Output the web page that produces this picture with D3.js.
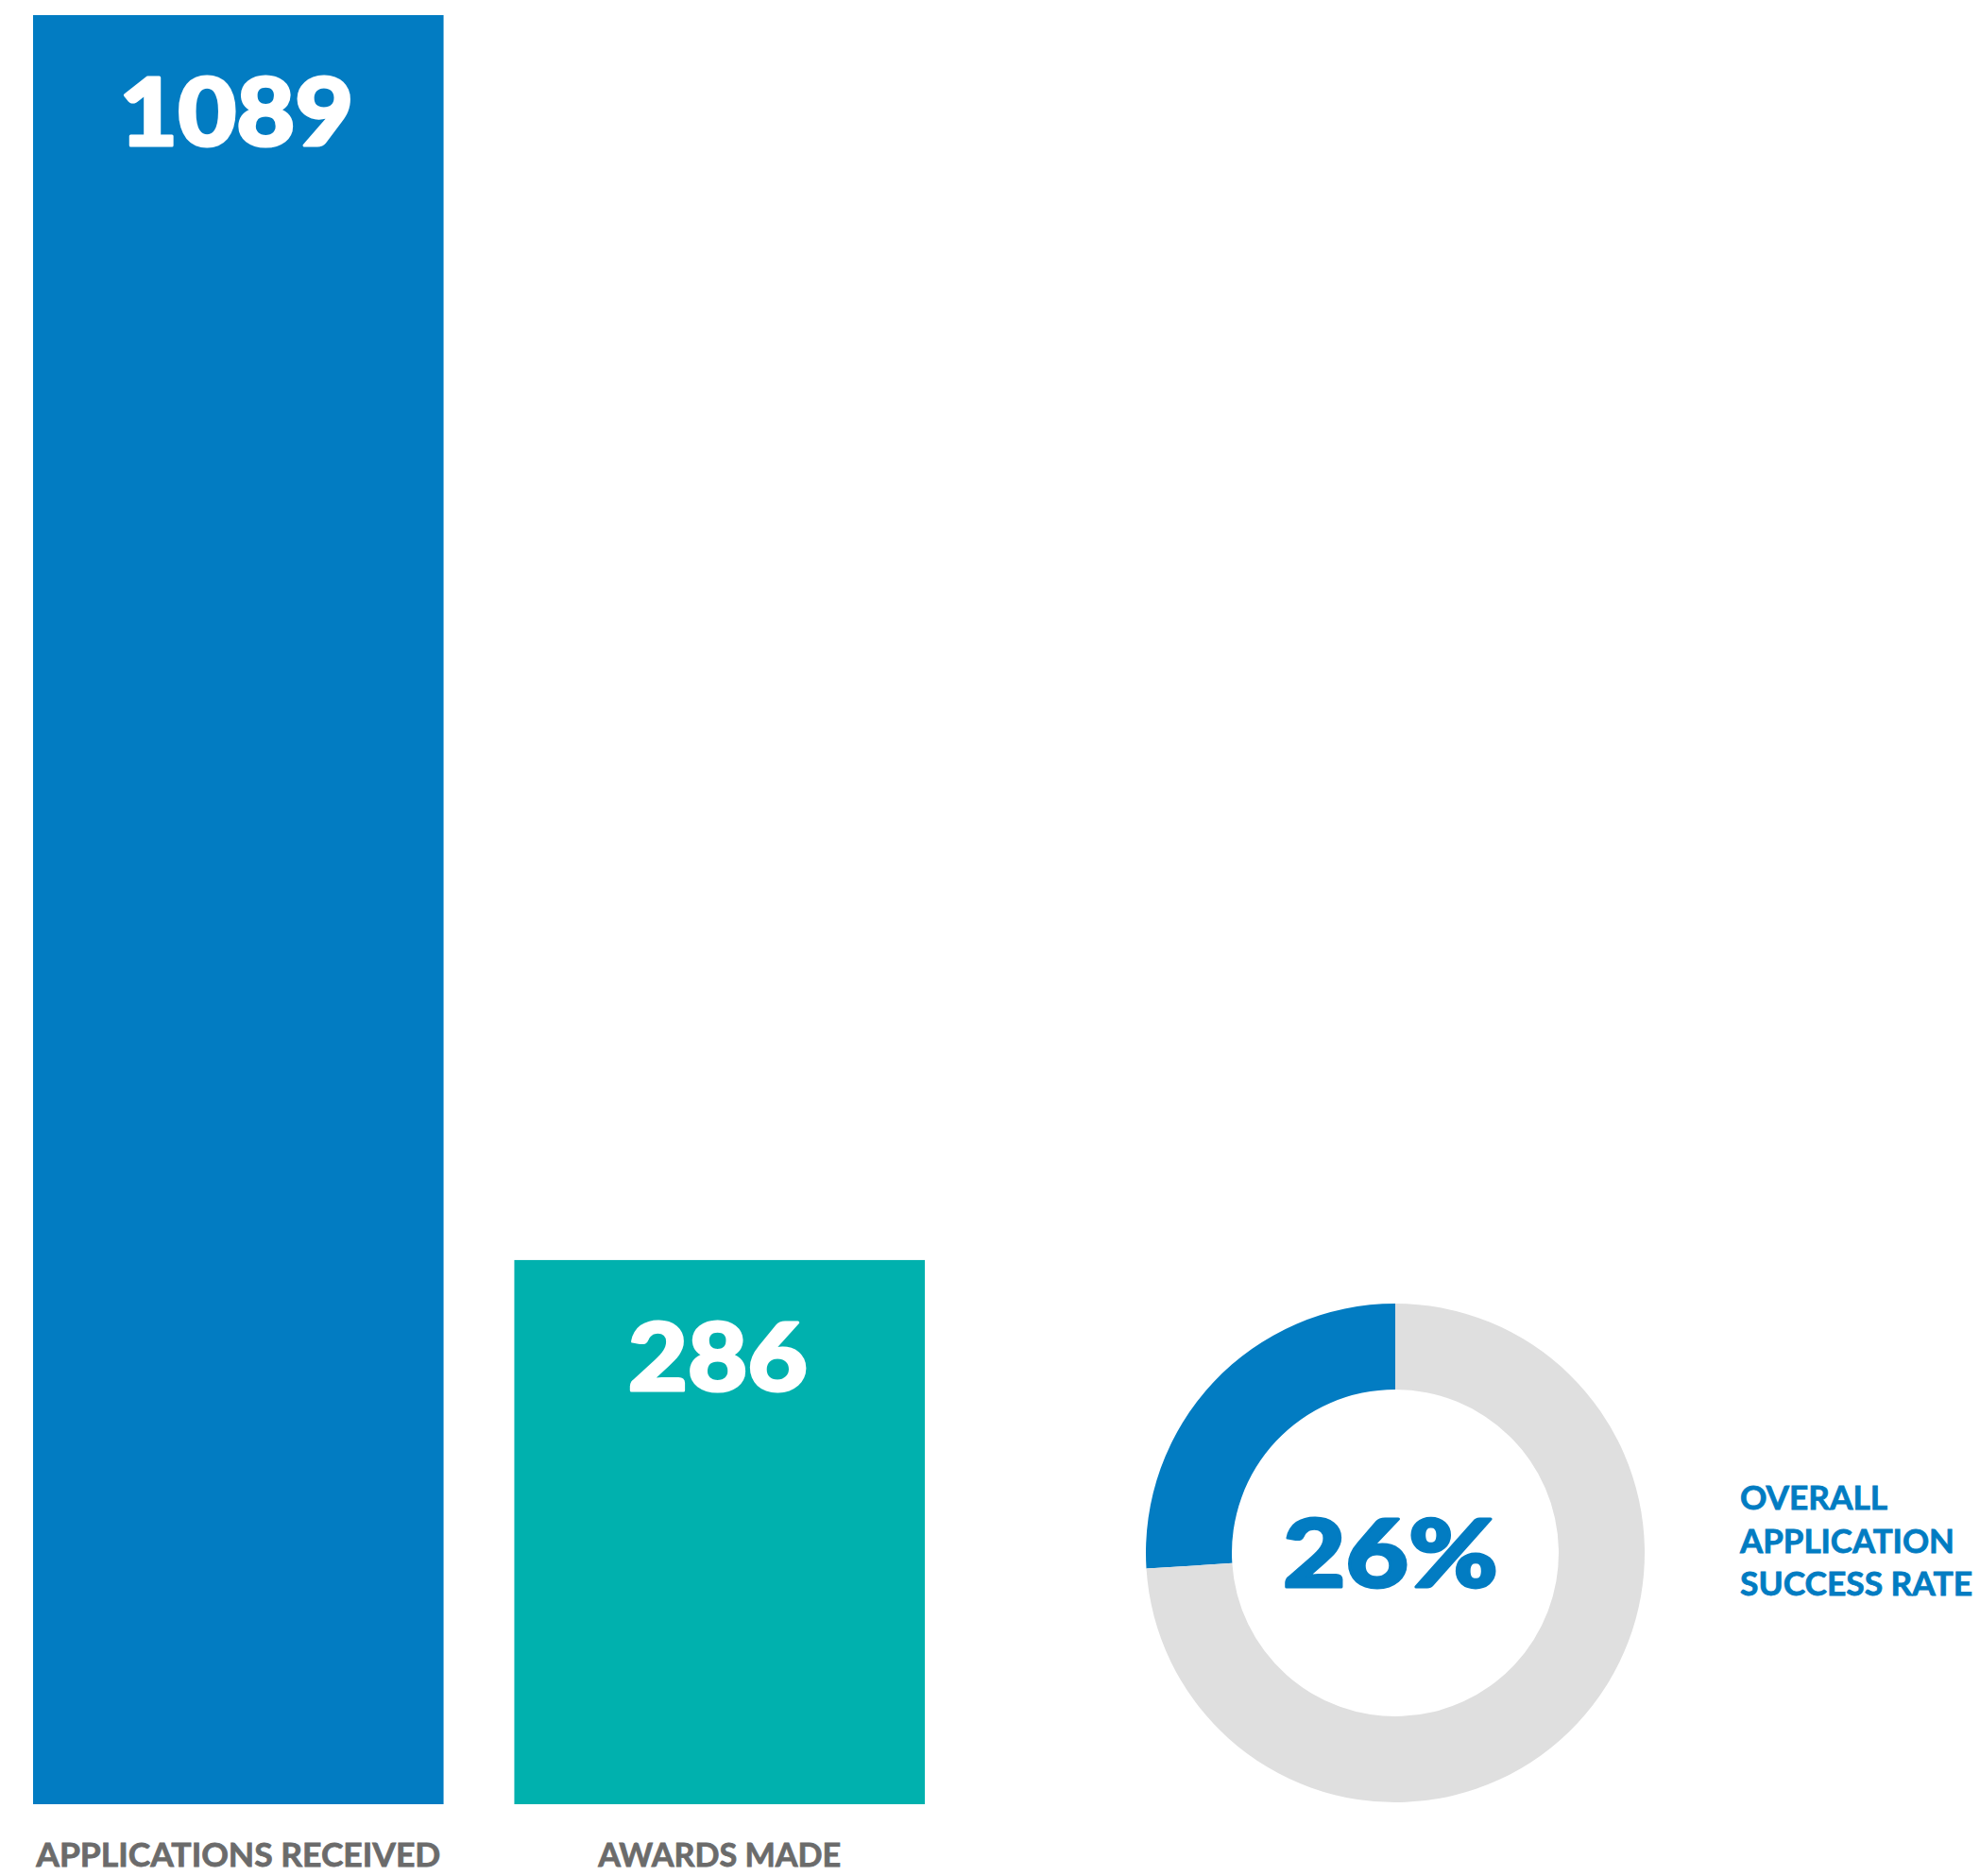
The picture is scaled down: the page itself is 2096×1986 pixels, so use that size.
<!DOCTYPE html>
<html>
<head>
<meta charset="utf-8">
<script src="https://cdn.jsdelivr.net/npm/d3@7"></script>
<style>
  body { margin: 0; background: #fff; }
  svg { display: block; }
</style>
</head>
<body>
<div id="chart"></div>
<script>
const width = 2096;
const height = 1986;

const categories = ['APPLICATIONS RECEIVED', 'AWARDS MADE'];
const values = [1089, 286];
const barColors = ['#027cc2', '#00b1ae'];
const rateValues = [26, 74];
const rateLabel = '26%';
const rateCaption = ['OVERALL', 'APPLICATION', 'SUCCESS RATE'];

const blue = '#027cc2';
const ringGrey = '#dfdfdf';
const labelGrey = '#6b6b6b';
const numFont = 'Lato, "Open Sans", sans-serif';

const svg = d3.select('#chart')
  .append('svg')
  .attr('width', width)
  .attr('height', height);

const xScale = d3.scaleBand()
  .domain(categories)
  .range([35, 979])
  .paddingInner(0.147)
  .paddingOuter(0);

// the infographic is not drawn to a zero baseline
const yScale = d3.scaleLinear()
  .domain([-65, 1089])
  .range([1910, 16]);

const bars = categories.map((c, i) => ({cat: c, value: values[i], color: barColors[i]}));

svg.selectAll('rect.bar')
  .data(bars)
  .join('rect')
  .attr('class', 'bar')
  .attr('x', d => xScale(d.cat))
  .attr('y', d => yScale(d.value))
  .attr('width', xScale.bandwidth())
  .attr('height', d => yScale(-65) - yScale(d.value))
  .attr('fill', d => d.color);

svg.selectAll('text.value')
  .data(bars)
  .join('text')
  .attr('class', 'value')
  .attr('x', d => xScale(d.cat) + xScale.bandwidth() / 2 - 2)
  .attr('y', d => yScale(d.value) + 138)
  .attr('text-anchor', 'middle')
  .style('font-family', numFont)
  .style('font-weight', 900)
  .style('font-size', '99px')
  .attr('textLength', d => String(d.value).length === 4 ? 248 : 190)
  .attr('lengthAdjust', 'spacingAndGlyphs')
  .attr('fill', '#fff')
  .attr('stroke', '#fff')
  .attr('stroke-width', 3)
  .attr('stroke-linejoin', 'round')
  .text(d => d.value);

svg.selectAll('text.cat')
  .data(bars)
  .join('text')
  .attr('class', 'cat')
  .attr('x', d => xScale(d.cat) + xScale.bandwidth() / 2)
  .attr('y', 1976)
  .attr('text-anchor', 'middle')
  .style('font-family', 'Lato, "Open Sans", sans-serif')
  .style('font-weight', 700)
  .style('font-size', '35px')
  .attr('textLength', d => d.cat.length > 12 ? 428 : 257)
  .attr('lengthAdjust', 'spacingAndGlyphs')
  .attr('fill', labelGrey)
  .attr('stroke', labelGrey)
  .attr('stroke-width', 0.8)
  .text(d => d.cat);

// success rate ring
const cx = 1477, cy = 1644;
const pie = d3.pie().sort(null).startAngle(0).endAngle(-2 * Math.PI);
const arc = d3.arc().innerRadius(173).outerRadius(264);

const ring = svg.append('g')
  .attr('transform', `translate(${cx}, ${cy})`);

ring.selectAll('path')
  .data(pie(rateValues))
  .join('path')
  .attr('d', arc)
  .attr('fill', (d, i) => i === 0 ? blue : ringGrey);

ring.append('text')
  .attr('x', -5)
  .attr('y', 36)
  .attr('text-anchor', 'middle')
  .style('font-family', numFont)
  .style('font-weight', 900)
  .style('font-size', '99px')
  .attr('textLength', 228)
  .attr('lengthAdjust', 'spacingAndGlyphs')
  .attr('fill', blue)
  .attr('stroke', blue)
  .attr('stroke-width', 3)
  .attr('stroke-linejoin', 'round')
  .text(rateLabel);

svg.selectAll('text.caption')
  .data(rateCaption)
  .join('text')
  .attr('class', 'caption')
  .attr('x', 1842)
  .attr('y', (d, i) => 1598 + i * 45.5)
  .style('font-family', 'Lato, "Open Sans", sans-serif')
  .style('font-weight', 700)
  .style('font-size', '35px')
  .attr('textLength', (d, i) => [156, 227, 246][i])
  .attr('lengthAdjust', 'spacingAndGlyphs')
  .attr('fill', blue)
  .attr('stroke', blue)
  .attr('stroke-width', 0.8)
  .text(d => d);
</script>
</body>
</html>
